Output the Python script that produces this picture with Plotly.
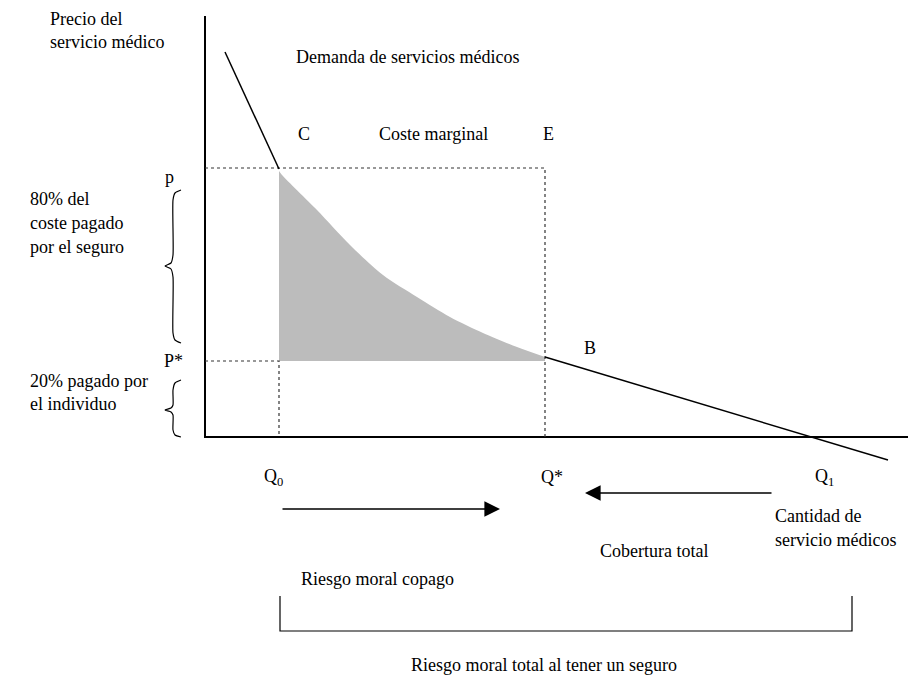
import plotly.graph_objects as go

# Demand curve pieces (quantity, price) in diagram units (origin at axes corner)
upper_q = [20, 74]
upper_p = [385, 268]
area_q = [74, 77, 112, 145, 178, 212, 245, 278, 312, 340]
area_p = [266, 262, 227, 192, 162, 140, 120, 104, 90, 80]
lower_q = [340, 608, 683]
lower_p = [80, 0, -23]

# Key levels
Q0, QS, Q1 = 74, 340, 608
P_HIGH, P_STAR = 269, 76
AX_TOP, AX_RIGHT = 421, 703

# Curly braces (x, y)
brace1_x = [-24, -30, -32, -32, -34, -40, -34, -32, -32, -30, -24]
brace1_y = [247, 244, 237, 182, 174, 171, 168, 160, 104, 97, 94]
brace2_x = [-24, -30, -32, -32, -34, -40, -34, -32, -32, -30, -24]
brace2_y = [57, 54, 47, 32, 29, 27, 25, 22, 7, 2, 0]

# Bottom bracket
bracket_x = [75, 75, 647, 647]
bracket_y = [-159, -194, -194, -159]

FONT = "Liberation Serif"
FS = 18

fig = go.Figure()

# shaded area: flat base at P*, smooth top along the demand curve
fig.add_trace(go.Scatter(x=[Q0, QS], y=[P_STAR, P_STAR], mode="lines",
                         line=dict(width=0), hoverinfo="skip"))
fig.add_trace(go.Scatter(x=area_q, y=area_p, fill="tonexty", fillcolor="#bcbcbc",
                         line=dict(width=0, shape="spline", smoothing=0.8),
                         mode="lines", hoverinfo="skip"))
# axes
fig.add_trace(go.Scatter(x=[0, 0, AX_RIGHT], y=[AX_TOP, 0, 0], mode="lines",
                         line=dict(color="black", width=2)))
# dotted guides
dot = dict(color="#333333", width=1.2, dash="dot")
fig.add_trace(go.Scatter(x=[0, QS, QS], y=[P_HIGH, P_HIGH, 0], mode="lines", line=dot))
fig.add_trace(go.Scatter(x=[0, Q0, Q0], y=[P_STAR, P_STAR, 0], mode="lines", line=dot))
# demand
fig.add_trace(go.Scatter(x=upper_q, y=upper_p, mode="lines", line=dict(color="black", width=1.5)))
fig.add_trace(go.Scatter(x=lower_q, y=lower_p, mode="lines", line=dict(color="black", width=1.5)))
# braces
for bx, by in [(brace1_x, brace1_y), (brace2_x, brace2_y)]:
    fig.add_trace(go.Scatter(x=bx, y=by, mode="lines",
                             line=dict(color="black", width=1.2, shape="spline", smoothing=0.6)))
# bracket
fig.add_trace(go.Scatter(x=bracket_x, y=bracket_y, mode="lines", line=dict(color="black", width=1.2)))

# arrows
fig.add_annotation(x=380, y=-56, ax=568, ay=-56, xref="x", yref="y", axref="x", ayref="y",
                   showarrow=True, arrowhead=2, arrowsize=2.4, arrowwidth=1.3, arrowcolor="black", text="")
fig.add_annotation(x=295, y=-72, ax=76, ay=-72, xref="x", yref="y", axref="x", ayref="y",
                   showarrow=True, arrowhead=2, arrowsize=2.4, arrowwidth=1.3, arrowcolor="black", text="")

labels = [
    ("Precio del", -157, 418),
    ("servicio médico", -157, 395),
    ("Demanda de servicios médicos", 89, 380),
    ("C", 91, 303),
    ("Coste marginal", 172, 303),
    ("E", 336, 303),
    ("p", -42, 260),
    ("80% del", -177, 238),
    ("coste pagado", -177, 214),
    ("por el seguro", -177, 190),
    ("P*", -43, 76),
    ("20% pagado por", -177, 56),
    ("el individuo", -177, 33),
    ("B", 377, 89),
    ("Q<sub>0</sub>", 57, -40),
    ("Q*", 334, -40),
    ("Q<sub>1</sub>", 608, -40),
    ("Cantidad de", 568, -79),
    ("servicio médicos", 568, -103),
    ("Cobertura total", 393, -114),
    ("Riesgo moral copago", 94, -142),
    ("Riesgo moral total al tener un seguro", 204, -228),
]
for t, x, y in labels:
    fig.add_annotation(x=x, y=y, text=t, showarrow=False, xanchor="left", yanchor="middle",
                       font=dict(family=FONT, size=FS, color="black"))

# The page body has an 8px margin, so the figure is 911x674 placed at (8, 8)
fig.update_layout(
    width=911, height=674, margin=dict(l=0, r=0, t=0, b=0),
    paper_bgcolor="white", plot_bgcolor="white", showlegend=False,
    xaxis=dict(range=[-197, 714], visible=False, fixedrange=True),
    yaxis=dict(range=[-245, 429], visible=False, fixedrange=True),
)
fig.write_html("out.html")
